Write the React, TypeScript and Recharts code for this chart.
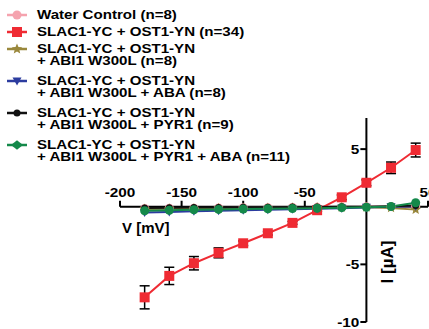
import React from 'react';
import { LineChart, Line, XAxis, YAxis, ReferenceLine, ErrorBar } from 'recharts';

// membrane voltage steps (mV)
const voltage = [-180, -160, -140, -120, -100, -80, -60, -40, -20, 0, 20, 40];

// mean currents (µA)
const waterControl = [-0.15, -0.13, -0.12, -0.1, -0.09, -0.08, -0.06, -0.05, -0.03, 0, 0.02, 0.05];
const slacOst = [-7.86, -6.0, -4.9, -4.0, -3.17, -2.3, -1.4, -0.3, 0.82, 2.08, 3.38, 4.92];
const slacOstErr = [1.0, 0.75, 0.58, 0.43, 0.2, 0.15, 0.12, 0.1, 0.2, 0.25, 0.5, 0.6];
const abi = [-0.2, -0.18, -0.16, -0.14, -0.12, -0.1, -0.08, -0.06, -0.05, -0.05, -0.1, -0.25];
const abiAba = [-0.5, -0.45, -0.4, -0.35, -0.3, -0.26, -0.22, -0.18, -0.12, -0.06, 0, 0.05];
const abiPyr = [-0.1, -0.08, -0.07, -0.06, -0.05, -0.04, -0.03, -0.02, -0.01, 0, 0.05, 0.1];
const abiPyrAba = [-0.35, -0.3, -0.26, -0.23, -0.2, -0.17, -0.15, -0.13, -0.08, -0.04, 0.02, 0.35];

const xTicks = [-200, -150, -100, -50, 50];
const yTicks = [5, -5, -10];

const series = [
  { key: 'water', values: waterControl, name: ['Water Control (n=8)'], color: '#f5a3ae', shape: 'circle', size: 9 },
  { key: 'slac', values: slacOst, name: ['SLAC1-YC + OST1-YN (n=34)'], color: '#ef2b33', shape: 'square', size: 10 },
  { key: 'abi', values: abi, name: ['SLAC1-YC + OST1-YN', '+ ABI1 W300L (n=8)'], color: '#9a883c', shape: 'star', size: 11 },
  { key: 'abiAba', values: abiAba, name: ['SLAC1-YC + OST1-YN', '+ ABI1 W300L + ABA (n=8)'], color: '#2c3c9f', shape: 'triangle', size: 9 },
  { key: 'abiPyr', values: abiPyr, name: ['SLAC1-YC + OST1-YN', '+ ABI1 W300L + PYR1 (n=9)'], color: '#111111', shape: 'circle', size: 7 },
  { key: 'abiPyrAba', values: abiPyrAba, name: ['SLAC1-YC + OST1-YN', '+ ABI1 W300L + PYR1 + ABA (n=11)'], color: '#14894a', shape: 'circle', size: 9 },
];

const data = voltage.map((v, i) => {
  const row: any = { v, slacErr: slacOstErr[i] };
  series.forEach(s => { row[s.key] = s.values[i]; });
  return row;
});

const FONT = '"Liberation Sans", Arial, sans-serif';

const Marker = ({ cx, cy, shape, color, size }: any) => {
  const r = size / 2;
  if (shape === 'square') return <rect x={cx - r} y={cy - r} width={size} height={size} fill={color} />;
  if (shape === 'triangle') {
    return <polygon points={`${cx - r},${cy - r * 0.8} ${cx + r},${cy - r * 0.8} ${cx},${cy + r}`} fill={color} />;
  }
  if (shape === 'diamond') {
    return <polygon points={`${cx - r},${cy} ${cx},${cy - r * 0.8} ${cx + r},${cy} ${cx},${cy + r * 0.8}`} fill={color} />;
  }
  if (shape === 'star') {
    const pts = [];
    for (let k = 0; k < 10; k++) {
      const rad = k % 2 === 0 ? r : r * 0.45;
      const a = -Math.PI / 2 + (k * Math.PI) / 5;
      pts.push(`${cx + rad * Math.cos(a)},${cy + rad * Math.sin(a)}`);
    }
    return <polygon points={pts.join(' ')} fill={color} />;
  }
  return <circle cx={cx} cy={cy} r={r} fill={color} />;
};

const stretch = 1.18;

const XTickLabel = (text: string) => (props: any) => {
  const vb = props.viewBox;
  if (!vb) return null;
  return (
    <text transform={`translate(${vb.x + vb.width / 2},${vb.y - 4}) scale(${stretch},1)`}
      textAnchor="middle" fontFamily={FONT} fontWeight="bold" fontSize={13} fill="#000">{text}</text>
  );
};

const YTickLabel = (text: string) => (props: any) => {
  const vb = props.viewBox;
  if (!vb) return null;
  return (
    <text transform={`translate(${vb.x - 1},${vb.y + 4.6}) scale(${stretch},1)`}
      textAnchor="end" fontFamily={FONT} fontWeight="bold" fontSize={13} fill="#000">{text}</text>
  );
};

const Legend = () => {
  let y = 15;
  return (
    <g>
      {series.map(s => {
        const top = y;
        y += 17 + (s.name.length - 1) * 15;
        return (
          <g key={s.key}>
            <line x1={7} x2={27} y1={top} y2={top} stroke={s.color} strokeWidth={2.5} />
            <Marker cx={17} cy={top} shape={s.key === 'abiPyrAba' ? 'diamond' : s.shape} color={s.color} size={s.key === 'abiPyrAba' ? 12 : s.size} />
            {s.name.map((line, j) => (
              <text key={j} transform={`translate(37,${top + 4.3 + j * 12}) scale(1.26,1)`}
                fontFamily={FONT} fontWeight="bold" fontSize={12} fill="#000">{line}</text>
            ))}
          </g>
        );
      })}
    </g>
  );
};

export default function App() {
  return (
    <div style={{ position: 'absolute', left: 0, top: 0, width: 429, height: 329, background: '#fff' }}>
      <LineChart width={429} height={329} data={data} margin={{ top: 118, right: 1, bottom: 7, left: 120 }}>
        <XAxis type="number" dataKey="v" domain={[-200, 50]} hide />
        <YAxis type="number" domain={[-10, 7.7]} hide />
        <ReferenceLine y={0} stroke="#000" strokeWidth={2} />
        <ReferenceLine x={0} stroke="#000" strokeWidth={2} />
        {xTicks.map(t => (
          <ReferenceLine key={`xt${t}`} segment={[{ x: t, y: 0 }, { x: t, y: 0.52 }]} stroke="#000" strokeWidth={2}
            label={XTickLabel(String(t))} />
        ))}
        {yTicks.map(t => (
          <ReferenceLine key={`yt${t}`} segment={[{ x: -4.9, y: t }, { x: 0, y: t }]} stroke="#000" strokeWidth={2}
            label={YTickLabel(String(t))} />
        ))}
        {series.map(s => (
          <Line key={s.key} dataKey={s.key} stroke={s.color} strokeWidth={2}
            isAnimationActive={false} activeDot={false}
            dot={(p: any) => <Marker key={`${s.key}-${p.index}`} cx={p.cx} cy={p.cy} shape={s.shape} color={s.color} size={s.size} />}>
            {s.key === 'slac' && (
              <ErrorBar dataKey="slacErr" direction="y" width={5} stroke="#000" strokeWidth={1.5} isAnimationActive={false} />
            )}
          </Line>
        ))}
      </LineChart>
      <svg width={429} height={329} style={{ position: 'absolute', left: 0, top: 0, pointerEvents: 'none' }}>
        <Legend />
        <text x={122} y={233} fontFamily={FONT} fontWeight="bold" fontSize={15} fill="#000">V [mV]</text>
        <text transform="translate(387,262) rotate(-90)" textAnchor="middle" dominantBaseline="central"
          fontFamily={FONT} fontWeight="bold" fontSize={17} fill="#000">I [µA]</text>
      </svg>
    </div>
  );
}
